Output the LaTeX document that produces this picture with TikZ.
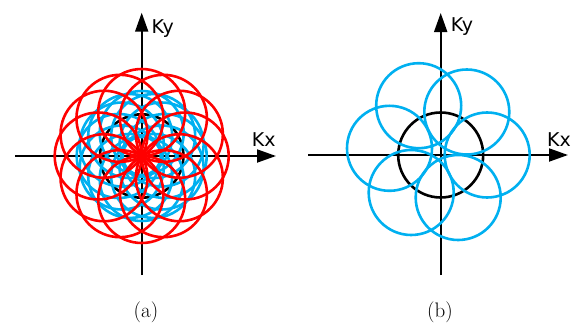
\documentclass[tikz,border=0pt]{standalone}
\usepackage{fontspec}
\newfontfamily\axisfont{DejaVu Sans}
\usetikzlibrary{arrows.meta}
\definecolor{cCyan}{RGB}{0,176,240}
\definecolor{cRed}{RGB}{255,0,0}
\tikzset{
  axisline/.style={-{Triangle[length=19pt,width=13pt]}, line width=1.9pt, black},
  axislabel/.style={font=\axisfont\fontsize{19}{21}\selectfont, inner sep=0pt},
  kcircle/.style={line width=2.6pt, black},
  redcircle/.style={line width=2.6pt, cRed},
  bluecircle/.style={line width=2.6pt, cCyan},
  captionnode/.style={font=\fontsize{21}{23}\selectfont, inner sep=0pt}
}

\begin{document}
\begin{tikzpicture}[x=1pt, y=1pt]
  \useasboundingbox (0,0) rectangle (574,325);

  % panel (a)
  \begin{scope}[shift={(141.7,169)}]
    \coordinate (oa) at (0,0);
    \coordinate (xa0) at (-126.7,0);
    \coordinate (xa1) at (134.3,0);
    \coordinate (ya0) at (0,-119);
    \coordinate (ya1) at (0,143.3);
    \draw[axisline] (xa0) -- (xa1);
    \draw[axisline] (ya0) -- (ya1);
    \node[axislabel] (kxa) at (122,16) {Kx};
    \node[axislabel] (kya) at (21,127) {Ky};
    \draw[kcircle] (oa) circle[radius=41.7];
    \foreach \a in {0,30,...,330}
      \draw[bluecircle] (\a:23) circle[radius=42];
    \foreach \a in {0,30,...,330}
      \draw[redcircle] (\a:43.5) circle[radius=43.5];
  \end{scope}
  \node[captionnode] (capa) at (146,13) {(a)};

  % panel (b)
  \begin{scope}[shift={(440.7,170)}]
    \coordinate (ob) at (0,0);
    \coordinate (xb0) at (-132.7,0);
    \coordinate (xb1) at (127.3,0);
    \coordinate (yb0) at (0,-120);
    \coordinate (yb1) at (0,142);
    \draw[axisline] (xb0) -- (xb1);
    \draw[axisline] (yb0) -- (yb1);
    \node[axislabel] (kxb) at (118.3,15) {Kx};
    \node[axislabel] (kyb) at (21.3,128) {Ky};
    \draw[kcircle] (ob) circle[radius=42.5];
    \foreach \cx/\cy in {46.5/0, 26.1/43, -22/49.3, -51.2/6.7, -29.5/-37.5, 17.5/-42.5}
      \draw[bluecircle] (\cx,\cy) circle[radius=42.5];
  \end{scope}
  \node[captionnode] (capb) at (440,13) {(b)};
\end{tikzpicture}
\end{document}
